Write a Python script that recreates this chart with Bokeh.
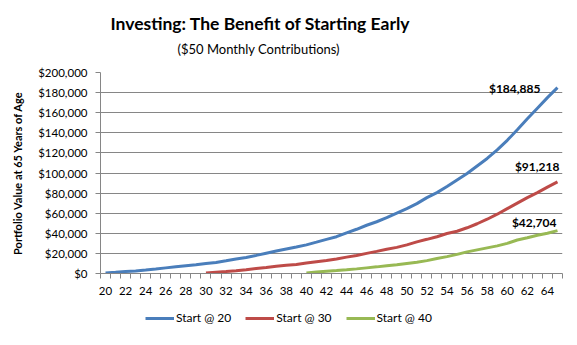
from bokeh.plotting import figure
from bokeh.layouts import column
from bokeh.models import (Range1d, FixedTicker, NumeralTickFormatter, Title,
                          Legend, LegendItem)
from bokeh.core.properties import value
from bokeh.embed import file_html
from bokeh.resources import INLINE

# ---------------- data ----------------
ages_20 = list(range(20, 66))
start_20 = [600, 1200, 1900, 2600, 3500, 4500, 5600, 6700, 7800, 8800,
            9900, 11000, 12600, 14500, 16000, 18000, 20200, 22300, 24300, 26300,
            28500, 31200, 34000, 36600, 40500, 44000, 48000, 51500, 55500, 60000,
            64500, 69500, 75500, 80500, 86500, 93000, 99500, 107000, 114500, 123000,
            132500, 143000, 154000, 164500, 175000, 184885]

ages_30 = list(range(30, 66))
start_30 = [600, 1300, 2000, 2800, 3800, 4900, 6000, 7300, 8200, 9000,
            10500, 11800, 13000, 14500, 16300, 18000, 20000, 22000, 24200, 26000,
            28500, 31500, 34000, 36600, 39800, 42000, 45500, 49500, 54000, 59000,
            64500, 70000, 75500, 80500, 86000, 91218]

ages_40 = list(range(40, 66))
start_40 = [600, 1400, 2200, 2900, 3700, 4600, 5600, 6600, 7700, 8700,
            10000, 11200, 12800, 15000, 16800, 19000, 21500, 23500, 25500, 27500,
            30000, 33300, 35500, 38000, 40000, 42704]

series_names = ["Start @ 20", "Start @ 30", "Start @ 40"]
x_tick_labels = list(range(20, 65, 2))
y_ticks = list(range(0, 200001, 20000))

title_text = "Investing: The Benefit of Starting Early"
subtitle_text = "($50 Monthly Contributions)"
y_title = "Portfolio Value at 65 Years of Age"

# ---------------- styling ----------------
FONT = "Lato"
BLUE, RED, GREEN = "#4A7EBB", "#BE4B48", "#98B954"
COLORS = [BLUE, RED, GREEN]
GRID = "#868686"

p = figure(width=577, height=300, output_backend="svg", toolbar_location=None,
           title=None,
           x_range=Range1d(19.5, 65.5), y_range=Range1d(0, 200000),
           min_border_left=100, min_border_right=15,
           min_border_top=72, min_border_bottom=27)
p.outline_line_color = None
p.background_fill_color = "white"
p.border_fill_color = "white"

# x axis: category-style, labels every 2 years, tick marks between categories
p.xaxis.ticker = FixedTicker(ticks=x_tick_labels,
                             minor_ticks=[a - 0.5 for a in ages_20] + [ages_20[-1] + 0.5])
p.xaxis.major_tick_out = 0
p.xaxis.major_tick_in = 0
p.xaxis.minor_tick_out = 5
p.xaxis.minor_tick_in = 0
p.xaxis.axis_line_color = GRID
p.xaxis.minor_tick_line_color = GRID
p.xaxis.major_label_text_font = FONT
p.xaxis.major_label_text_font_size = "11.5px"
p.xaxis.major_label_text_color = "black"
p.xaxis.major_label_standoff = 8

# y axis
p.yaxis.ticker = FixedTicker(ticks=y_ticks, minor_ticks=[])
p.yaxis.formatter = NumeralTickFormatter(format="$0,0")
p.yaxis.major_tick_out = 5
p.yaxis.major_tick_in = 0
p.yaxis.minor_tick_line_color = None
p.yaxis.axis_line_color = GRID
p.yaxis.major_tick_line_color = GRID
p.yaxis.major_label_text_font = FONT
p.yaxis.major_label_text_font_size = "11.5px"
p.yaxis.major_label_text_color = "black"
p.yaxis.major_label_standoff = 8
p.yaxis.axis_label = y_title
p.yaxis.axis_label_text_font = FONT
p.yaxis.axis_label_text_font_size = "11px"
p.yaxis.axis_label_text_font_style = "bold"
p.yaxis.axis_label_text_color = "black"
p.yaxis.axis_label_standoff = 11

p.xgrid.grid_line_color = None
p.ygrid.ticker = FixedTicker(ticks=y_ticks)
p.ygrid.grid_line_color = GRID
p.ygrid.grid_line_width = 1

# lines
p.line(ages_20, start_20, line_width=3, line_color=BLUE)
p.line(ages_30, start_30, line_width=3, line_color=RED)
p.line(ages_40, start_40, line_width=3, line_color=GREEN)

# end-value labels
for ages, vals, dx, dy in [(ages_20, start_20, -17, 1),
                           (ages_30, start_30, 2, -15),
                           (ages_40, start_40, -1, -8)]:
    p.text(x=[ages[-1]], y=[vals[-1]], text=["${:,}".format(vals[-1])],
           x_offset=dx, y_offset=dy, text_align="right", text_baseline="middle",
           text_font=value(FONT), text_font_size="12px", text_font_style="bold",
           text_color="black")

# titles (stacked outward from the frame: spacer, subtitle, title)
p.add_layout(Title(text=" ", text_font_size="8px", standoff=1), "above")
p.add_layout(Title(text=subtitle_text, align="left", offset=77,
                   vertical_align="middle", standoff=6,
                   text_font=FONT, text_font_size="13px",
                   text_font_style="normal", text_color="black"), "above")
p.add_layout(Title(text=title_text, align="left", offset=10,
                   vertical_align="bottom", standoff=6,
                   text_font=FONT, text_font_size="17.5px",
                   text_font_style="bold", text_color="black"), "above")

# legend strip below the chart (series drawn again but outside its view)
lg = figure(width=577, height=45, output_backend="svg", toolbar_location=None,
            title=None, x_axis_type=None, y_axis_type=None,
            x_range=Range1d(0, 1), y_range=Range1d(0, 1),
            min_border_left=0, min_border_right=0,
            min_border_top=0, min_border_bottom=0)
lg.outline_line_color = None
lg.xgrid.grid_line_color = None
lg.ygrid.grid_line_color = None
lg.background_fill_color = "white"
lg.border_fill_color = "white"
items = []
for name, col, xs, ys in zip(series_names, COLORS,
                             [ages_20, ages_30, ages_40],
                             [start_20, start_30, start_40]):
    r = lg.line(x=xs, y=ys, line_width=3, line_color=col)
    items.append(LegendItem(label=name, renderers=[r]))
legend = Legend(items=items, orientation="horizontal", location=(45, 20),
                border_line_color=None, background_fill_alpha=0,
                padding=0, margin=0, spacing=14, glyph_width=29, glyph_height=12,
                label_standoff=2, label_height=12,
                label_text_font=FONT, label_text_font_size="12px",
                label_text_color="black")
lg.add_layout(legend)

layout = column(p, lg, spacing=0)
open("out.html", "w").write(file_html(layout, INLINE))
